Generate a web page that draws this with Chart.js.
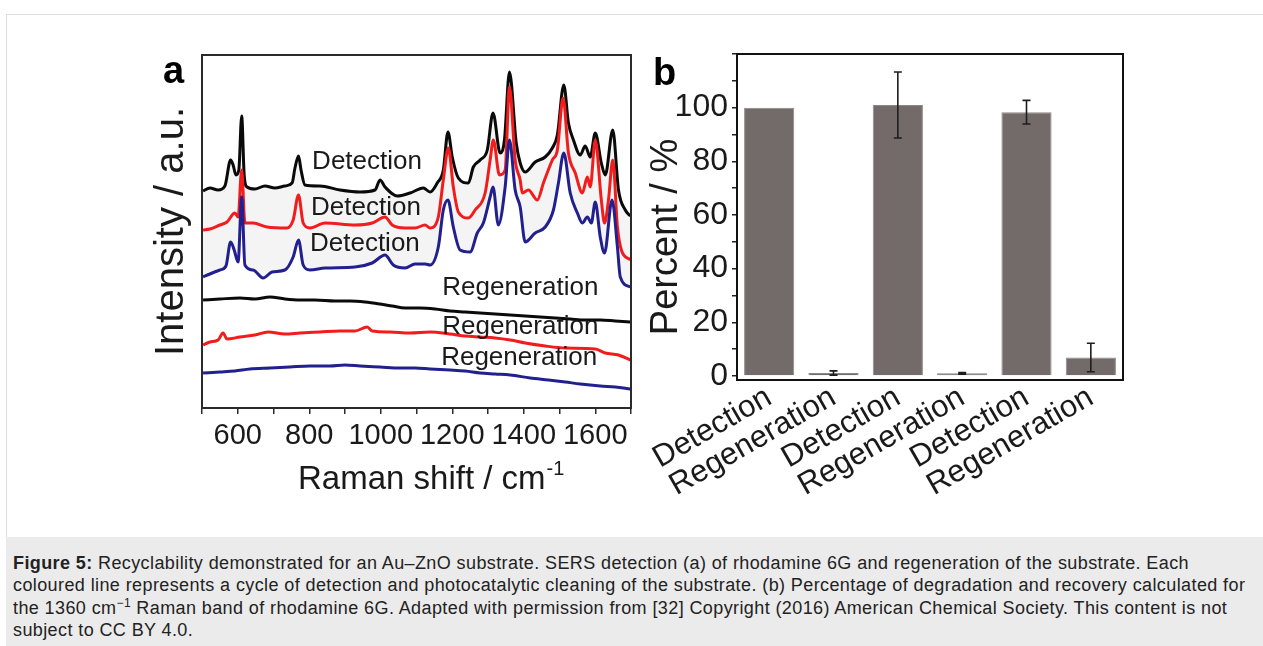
<!DOCTYPE html>
<html>
<head>
<meta charset="utf-8">
<title>Figure 5</title>
<script src="https://cdn.jsdelivr.net/npm/chart.js@4.4.0/dist/chart.umd.min.js"></script>
<style>
    body { margin: 0; background: #fff; font-family: "Liberation Sans", Arial, sans-serif; }
    #frame { position: absolute; left: 6px; top: 14px; width: 1257px; height: 524px; border-left: 1px solid #dedede; border-top: 1px solid #dedede; box-sizing: border-box; }
    #caption { position: absolute; left: 6px; top: 537px; width: 1257px; height: 109px; background: #ebebeb; box-sizing: border-box; padding: 15px 7px 0 7px; font-size: 18px; letter-spacing: 0.4px; line-height: 22.3px; color: #222; white-space: nowrap; }
    .panel { position: absolute; }
    #panel-a { left: 140px; top: 40px; width: 510px; height: 470px; }
    #panel-b { left: 640px; top: 40px; width: 500px; height: 470px; }
</style>
</head>
<body>
<div id="frame"></div>
<div class="panel" id="panel-a"><canvas id="raman-chart"></canvas></div>
<div class="panel" id="panel-b"><canvas id="percent-chart"></canvas></div>
<div id="caption">
<b>Figure 5:</b> Recyclability demonstrated for an Au–ZnO substrate. SERS detection (a) of rhodamine 6G and regeneration of the substrate. Each<br>
coloured line represents a cycle of detection and photocatalytic cleaning of the substrate. (b) Percentage of degradation and recovery calculated for<br>
the 1360 cm<sup style="font-size:12px;line-height:0">−1</sup> Raman band of rhodamine 6G. Adapted with permission from [32] Copyright (2016) American Chemical Society. This content is not<br>
subject to CC BY 4.0.
</div>

<script>
// Panel a: Raman spectra, [shift cm-1, intensity a.u.].
var detectionBlack = [
    [503, 217], [522, 220], [545, 218], [564, 222], [580, 248], [587, 243], [595, 233], [603, 238],
    [611, 292], [618, 233], [626, 221], [648, 219], [676, 222], [704, 220], [732, 222], [752, 225],
    [760, 240], [770, 252], [777, 238], [788, 223], [830, 222], [886, 218], [942, 216], [984, 218],
    [998, 228], [1012, 221], [1046, 212], [1082, 215], [1119, 220], [1138, 216], [1158, 225], [1175, 238],
    [1188, 276], [1200, 251], [1217, 230], [1245, 225], [1259, 241], [1278, 248], [1298, 258], [1314, 295],
    [1334, 255], [1346, 268], [1360, 336], [1379, 265], [1390, 245], [1404, 236], [1432, 246], [1460, 251],
    [1480, 260], [1494, 273], [1512, 323], [1525, 285], [1539, 268], [1558, 253], [1572, 262], [1586, 251],
    [1600, 275], [1617, 245], [1628, 233], [1649, 278], [1665, 218], [1684, 198], [1698, 192]
];
var detectionRed = [
    [503, 178], [522, 179], [550, 183], [570, 186], [592, 195], [601, 191], [611, 238], [620, 185],
    [643, 185], [682, 181], [738, 180], [755, 188], [770, 213], [783, 185], [802, 180], [844, 185],
    [928, 183], [976, 185], [1012, 191], [1032, 183], [1068, 180], [1096, 180], [1124, 183], [1138, 180],
    [1161, 191], [1175, 228], [1189, 260], [1203, 221], [1217, 196], [1245, 190], [1264, 198], [1292, 215],
    [1306, 248], [1315, 268], [1332, 233], [1348, 238], [1360, 321], [1376, 248], [1390, 228], [1396, 215],
    [1413, 218], [1438, 208], [1455, 225], [1480, 248], [1494, 258], [1510, 310], [1525, 255], [1544, 235],
    [1564, 215], [1578, 231], [1586, 221], [1600, 268], [1617, 208], [1626, 185], [1637, 208], [1649, 248],
    [1662, 181], [1673, 158], [1698, 148]
];
var detectionBlue = [
    [503, 131], [522, 134], [550, 138], [567, 142], [580, 166], [590, 158], [601, 146], [611, 211],
    [620, 143], [643, 138], [671, 130], [696, 136], [732, 138], [755, 151], [770, 168], [783, 143],
    [802, 138], [844, 140], [928, 141], [976, 145], [1012, 153], [1035, 143], [1068, 140], [1096, 144],
    [1124, 144], [1138, 143], [1161, 161], [1175, 198], [1188, 208], [1203, 181], [1222, 158], [1250, 156],
    [1270, 175], [1287, 185], [1306, 211], [1314, 221], [1329, 183], [1348, 221], [1360, 268], [1376, 218],
    [1390, 201], [1404, 166], [1432, 175], [1460, 181], [1483, 198], [1497, 225], [1512, 255], [1530, 215],
    [1550, 195], [1564, 185], [1578, 191], [1589, 185], [1600, 206], [1614, 171], [1626, 155], [1647, 208],
    [1662, 161], [1670, 131], [1698, 121]
];
var regenerationBlack = [
    [503, 108], [550, 109], [606, 110], [648, 109], [690, 111], [732, 109], [774, 108], [816, 108],
    [872, 107], [914, 107], [956, 106], [998, 104], [1032, 102], [1068, 100], [1110, 100], [1152, 99],
    [1194, 97], [1236, 96], [1278, 95], [1320, 94], [1362, 93], [1404, 92], [1446, 91], [1488, 90],
    [1530, 89], [1572, 88], [1614, 88], [1656, 87], [1698, 86]
];
var regenerationRed = [
    [503, 63], [522, 66], [545, 68], [559, 75], [570, 69], [606, 71], [648, 73], [685, 76],
    [732, 74], [774, 75], [830, 76], [886, 77], [928, 77], [962, 81], [976, 77], [1026, 76],
    [1082, 75], [1138, 76], [1194, 74], [1236, 72], [1278, 71], [1320, 70], [1362, 68], [1404, 65],
    [1460, 62], [1516, 60], [1600, 59], [1628, 55], [1665, 53], [1698, 48]
];
var regenerationBlue = [
    [503, 35], [550, 36], [592, 37], [634, 39], [690, 40], [746, 41], [802, 42], [858, 42],
    [900, 43], [942, 42], [998, 41], [1054, 40], [1096, 40], [1138, 39], [1194, 38], [1236, 37],
    [1278, 35], [1320, 34], [1362, 33], [1418, 30], [1469, 28], [1516, 26], [1558, 24], [1614, 22],
    [1656, 21], [1698, 19]
];

// Panel a: curve labels, placed in data coordinates.
var spectrumLabels = ['Detection', 'Detection', 'Detection', 'Regeneration', 'Regeneration', 'Regeneration'];
var labelShift = [808, 805, 802, 1172, 1172, 1169];
var labelLevel = [246, 200, 164, 120, 81, 50];

// Panel b: percent of the 1360 cm-1 band per step.
var stepLabels = ['Detection', 'Regeneration', 'Detection', 'Regeneration', 'Detection', 'Regeneration'];
var percentValues = [100, 1.1, 101, 1.0, 98.3, 6.9];
var percentErrors = [0, 0.8, 12.3, 0.3, 4.4, 5.3];
</script>

<script>
(function () {
    'use strict';

    var FONT = '"Liberation Sans", Arial, sans-serif';
    var INK = '#1a1a1a';

    function toPoints(pairs) {
        return pairs.map(function (p) {
            return { x: p[0], y: p[1] };
        });
    }

    function spectrum(pairs, color, order) {
        return {
            data: toPoints(pairs),
            borderColor: color,
            borderWidth: 3,
            pointRadius: 0,
            cubicInterpolationMode: 'monotone',
            fill: false,
            order: order
        };
    }

    /**
     * Box round the plot area, used by both panels.
     */
    function drawBox(chart, color) {
        var a = chart.chartArea;
        var ctx = chart.ctx;
        ctx.save();
        ctx.strokeStyle = color;
        ctx.lineWidth = 2;
        ctx.strokeRect(a.left, a.top, a.right - a.left, a.bottom - a.top);
        ctx.restore();
    }

    function drawVerticalText(ctx, text, x, y, size) {
        ctx.save();
        ctx.translate(x, y);
        ctx.rotate(-Math.PI / 2);
        ctx.font = size + 'px ' + FONT;
        ctx.fillStyle = INK;
        ctx.textAlign = 'center';
        ctx.textBaseline = 'middle';
        ctx.fillText(text, 0, 0);
        ctx.restore();
    }

    // Keep axis label overhang from moving the plot box.
    function noOverhang(s) {
        s.paddingTop = 0;
        s.paddingBottom = 0;
        s.paddingLeft = 0;
        s.paddingRight = 0;
    }

    var ramanDecor = {
        id: 'ramanDecor',
        afterDraw: function (chart) {
            var ctx = chart.ctx;
            var xs = chart.scales.x;
            var ys = chart.scales.y;
            var a = chart.chartArea;

            drawBox(chart, '#2a2a2a');

            ctx.save();
            ctx.fillStyle = INK;
            ctx.font = '26px ' + FONT;
            ctx.textAlign = 'left';
            ctx.textBaseline = 'middle';
            for (var i = 0; i < spectrumLabels.length; i++) {
                ctx.fillText(spectrumLabels[i], xs.getPixelForValue(labelShift[i]), ys.getPixelForValue(labelLevel[i]));
            }

            // x title with superscript
            ctx.textBaseline = 'alphabetic';
            ctx.font = '33px ' + FONT;
            var main = 'Raman shift / cm';
            var tx = a.left + 96;
            var ty = a.bottom + 81;
            ctx.fillText(main, tx, ty);
            var w = ctx.measureText(main).width;
            ctx.font = '20px ' + FONT;
            ctx.fillText('-1', tx + w + 1, ty - 14);

            // panel letter
            ctx.font = 'bold 38px ' + FONT;
            ctx.fillStyle = '#000';
            ctx.fillText('a', a.left - 39, a.top + 28);
            ctx.restore();

            drawVerticalText(ctx, 'Intensity / a.u.', a.left - 30, (a.top + a.bottom) / 2, 40);
        }
    };

    var percentDecor = {
        id: 'percentDecor',
        afterDatasetsDraw: function (chart) {
            var ctx = chart.ctx;
            var ys = chart.scales.y;
            var meta = chart.getDatasetMeta(0);
            ctx.save();
            ctx.strokeStyle = '#1e1e1e';
            ctx.lineWidth = 1.6;
            for (var i = 0; i < percentValues.length; i++) {
                if (!percentErrors[i]) {
                    continue;
                }
                var x = meta.data[i].x;
                var top = ys.getPixelForValue(percentValues[i] + percentErrors[i]);
                var bottom = ys.getPixelForValue(percentValues[i] - percentErrors[i]);
                ctx.beginPath();
                ctx.moveTo(x, top);
                ctx.lineTo(x, bottom);
                ctx.moveTo(x - 4, top);
                ctx.lineTo(x + 4, top);
                ctx.moveTo(x - 4, bottom);
                ctx.lineTo(x + 4, bottom);
                ctx.stroke();
            }
            ctx.restore();
        },
        afterDraw: function (chart) {
            var ctx = chart.ctx;
            var a = chart.chartArea;
            drawBox(chart, '#111');
            drawVerticalText(ctx, 'Percent / %', a.left - 70, (a.top + a.bottom) / 2 + 20, 38);
            ctx.save();
            ctx.font = 'bold 38px ' + FONT;
            ctx.fillStyle = '#000';
            ctx.fillText('b', a.left - 84, a.top + 31);
            ctx.restore();
        }
    };

    function initRamanChart() {
        var ctx = document.getElementById('raman-chart').getContext('2d');
        var blackFill = spectrum(detectionBlack, '#0a0a0a', 3);
        blackFill.fill = { target: 2 };
        blackFill.backgroundColor = '#f4f4f4';

        new Chart(ctx, {
            type: 'line',
            data: {
                datasets: [
                    blackFill,
                    spectrum(detectionRed, '#f21c1c', 2),
                    spectrum(detectionBlue, '#22208e', 1),
                    spectrum(regenerationBlack, '#0a0a0a', 3),
                    spectrum(regenerationRed, '#f21c1c', 2),
                    spectrum(regenerationBlue, '#22208e', 1)
                ]
            },
            options: {
                responsive: true,
                maintainAspectRatio: false,
                animation: false,
                layout: { padding: { top: 15, right: 19, left: 0, bottom: 0 } },
                plugins: {
                    legend: { display: false },
                    tooltip: { enabled: false }
                },
                scales: {
                    x: {
                        type: 'linear',
                        min: 500,
                        max: 1700,
                        afterFit: function (s) { s.height = 102; noOverhang(s); },
                        border: { display: false },
                        grid: { drawOnChartArea: false, tickLength: 6, color: '#2a2a2a', lineWidth: 1.5 },
                        ticks: {
                            stepSize: 100,
                            autoSkip: false,
                            maxRotation: 0,
                            padding: 5,
                            color: INK,
                            font: { family: FONT, size: 29 },
                            callback: function (v) {
                                return (v % 200 === 0 && v >= 600 && v <= 1600) ? v : '';
                            }
                        }
                    },
                    y: {
                        min: 0,
                        max: 353,
                        afterFit: function (s) { s.width = 62; noOverhang(s); },
                        border: { display: false },
                        grid: { display: false },
                        ticks: { display: false }
                    }
                }
            },
            plugins: [ramanDecor]
        });
    }

    function initPercentChart() {
        var ctx = document.getElementById('percent-chart').getContext('2d');
        new Chart(ctx, {
            type: 'bar',
            data: {
                labels: stepLabels,
                datasets: [{
                    data: percentValues,
                    backgroundColor: '#736b6a',
                    borderColor: '#8e8786',
                    borderWidth: 1,
                    categoryPercentage: 1,
                    barPercentage: 0.78
                }]
            },
            options: {
                responsive: true,
                maintainAspectRatio: false,
                animation: false,
                layout: { padding: { top: 14, right: 17, left: 0, bottom: 0 } },
                plugins: {
                    legend: { display: false },
                    tooltip: { enabled: false }
                },
                scales: {
                    x: {
                        afterFit: function (s) { s.height = 130; noOverhang(s); },
                        border: { display: false },
                        grid: { display: false },
                        ticks: {
                            autoSkip: false,
                            minRotation: 30,
                            maxRotation: 30,
                            padding: -9,
                            color: INK,
                            font: { family: FONT, size: 31 }
                        }
                    },
                    y: {
                        min: -1.5,
                        max: 120,
                        afterFit: function (s) { s.width = 97; noOverhang(s); },
                        border: { display: false },
                        grid: { drawOnChartArea: false, tickLength: 5, color: '#222', lineWidth: 1.5 },
                        ticks: {
                            stepSize: 10,
                            includeBounds: false,
                            autoSkip: false,
                            padding: 4,
                            color: INK,
                            font: { family: FONT, size: 32 },
                            callback: function (v) {
                                return (v % 20 === 0 && v >= 0 && v <= 100) ? v : '';
                            }
                        }
                    }
                }
            },
            plugins: [percentDecor]
        });
    }

    initRamanChart();
    initPercentChart();
})();
</script>
</body>
</html>
